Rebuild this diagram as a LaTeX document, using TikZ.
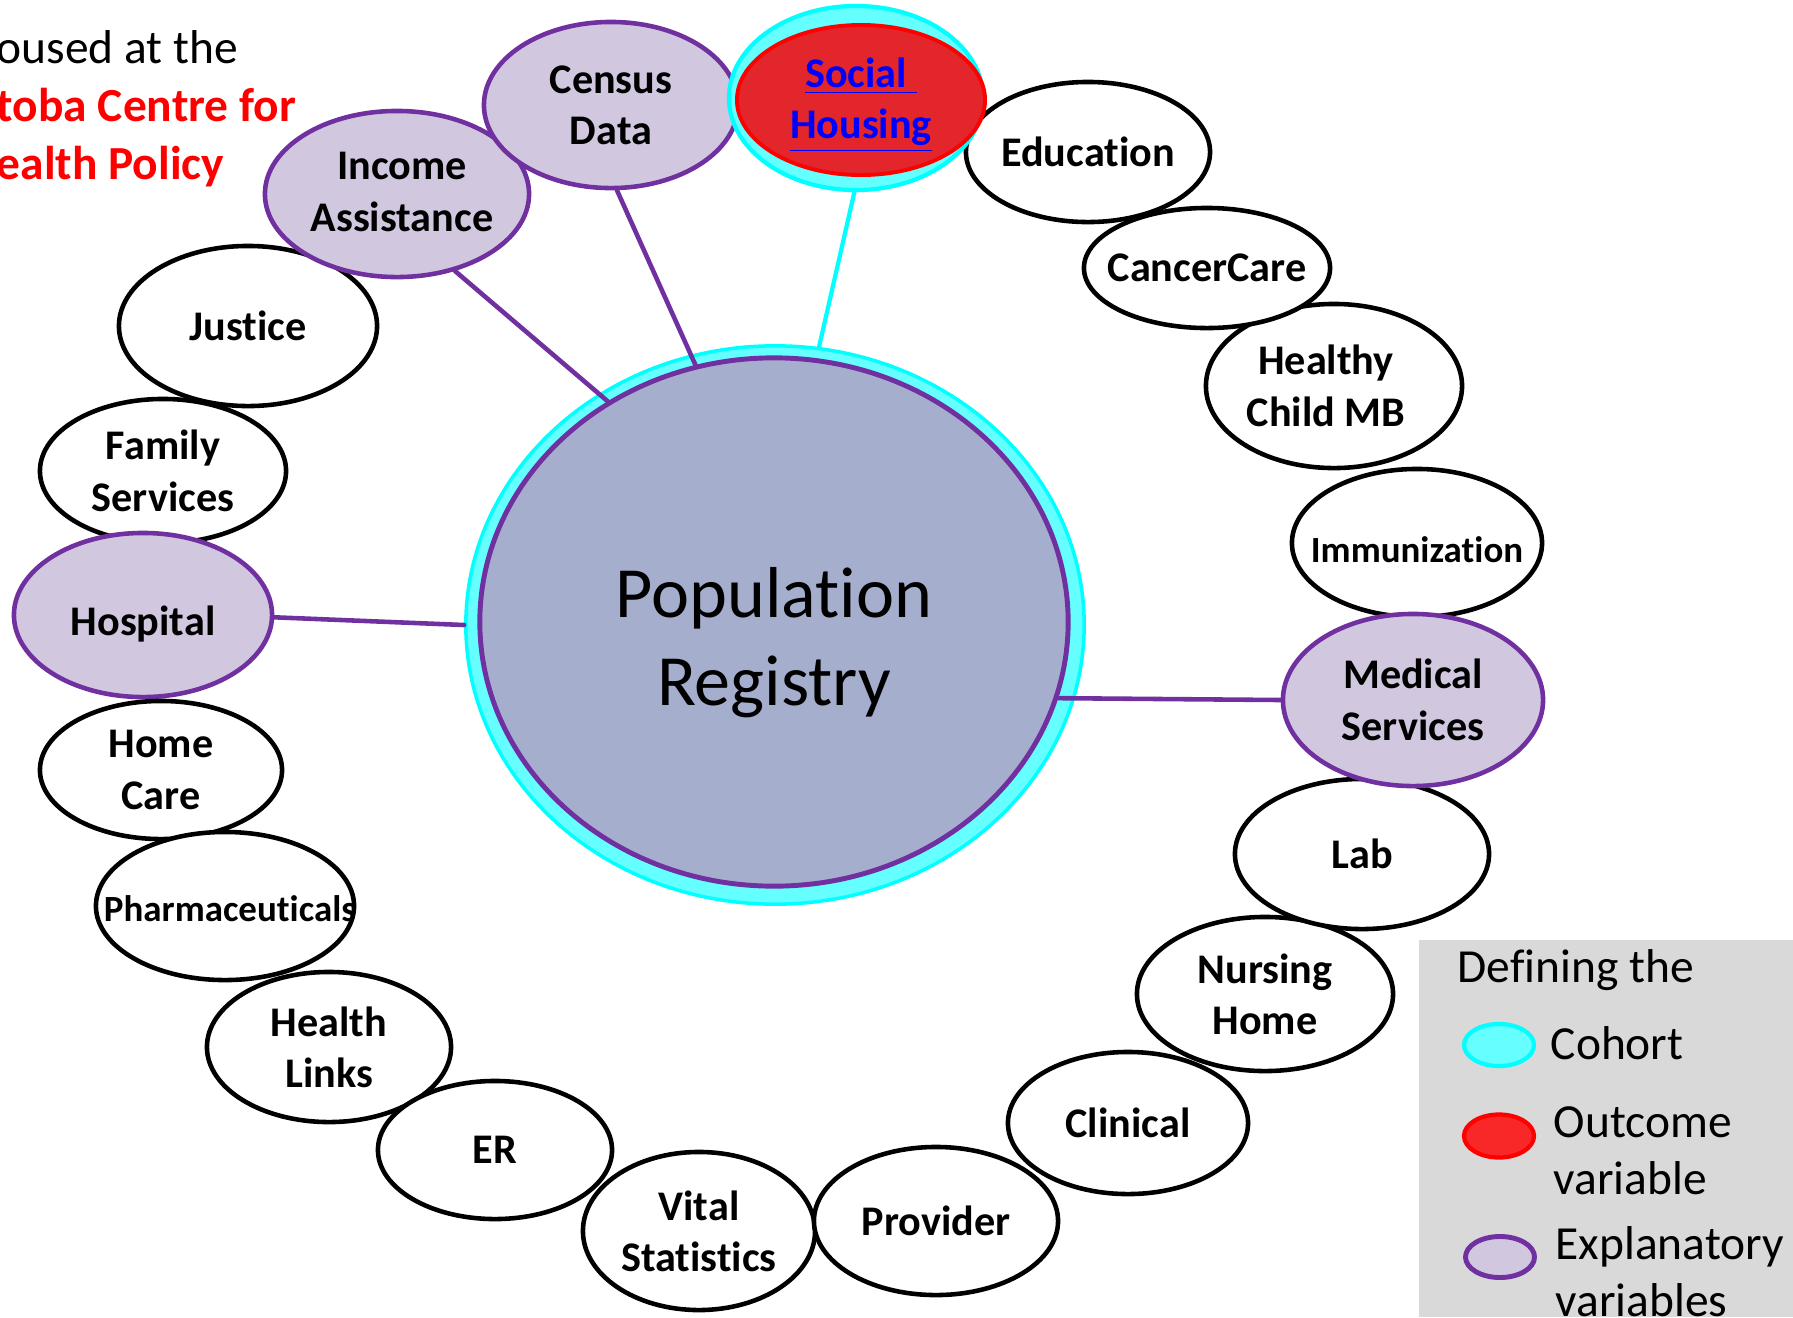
\documentclass[tikz,border=0pt]{standalone}
\usepackage{fontspec}
\setmainfont[Ligatures={NoCommon,NoContextual,NoRequired},Contextuals=NoAlternate]{Carlito}
\usetikzlibrary{shapes.geometric}
\definecolor{grape}{HTML}{7030A0}
\definecolor{lilac}{HTML}{D1C8E0}
\definecolor{slate}{HTML}{A6AECE}
\definecolor{aqua}{HTML}{00FFFF}
\definecolor{aquafill}{HTML}{66FFFF}
\definecolor{scarlet}{HTML}{E3262B}
\definecolor{keyred}{HTML}{F82828}
\definecolor{linkblue}{HTML}{0000FF}
\definecolor{keygray}{HTML}{D9D9D9}
\newcommand{\srcfont}{\bfseries\fontsize{12}{14.6}\selectfont}
\newcommand{\smallsrcfont}{\bfseries\fontsize{10.5}{12.8}\selectfont}
\newcommand{\keyfont}{\fontsize{13.5}{16.2}\selectfont}

\begin{document}
\begin{tikzpicture}[line cap=round,line join=round,x=0.01cm,y=-0.01cm,
  every label/.style={align=center,font=\srcfont},
  src/.style={ellipse,draw=black,fill=white,line width=1.3pt,inner sep=0pt},
  expl/.style={ellipse,draw=grape,fill=lilac,line width=1.3pt,inner sep=0pt},
  link/.style={draw=grape,line width=1.3pt}]
\useasboundingbox (0,0) rectangle (1793,1317);
% note in the top left corner
\node[anchor=west,align=left,inner sep=0pt,font=\fontsize{13.5}{16.5}\selectfont] (mchp) at (-4,109)
  {oused at the\\{\color{red}\bfseries toba Centre for}\\{\color{red}\bfseries ealth Policy}};
% registry in the middle
\node[ellipse,draw=aqua,fill=aquafill,line width=1pt,minimum width=6.18cm,minimum height=5.58cm] (popring) at (775,625) {};
\node[ellipse,draw=grape,fill=slate,line width=1.4pt,minimum width=5.88cm,minimum height=5.28cm,
  label={[font=\fontsize{20.5}{25}\selectfont,yshift=-0.21cm]center:Population\\Registry}] (pop) at (774,622) {};
% data sources, left side
\node[src,minimum width=2.58cm,minimum height=1.60cm,label={center:Justice}] (justice) at (248,326) {};
\node[src,minimum width=2.46cm,minimum height=1.44cm,label={center:Family\\Services}] (family) at (163,471) {};
\node[expl,minimum width=2.58cm,minimum height=1.64cm,label={[yshift=-0.09cm]center:Hospital}] (hospital) at (143,615) {};
\node[src,minimum width=2.42cm,minimum height=1.38cm,label={center:Home\\Care}] (homecare) at (161,770) {};
\node[src,minimum width=2.58cm,minimum height=1.48cm,label={[font=\smallsrcfont,yshift=-0.03cm,xshift=0.05cm]center:Pharmaceuticals}] (pharma) at (225,906) {};
\node[src,minimum width=2.44cm,minimum height=1.50cm,label={center:Health\\Links}] (links) at (329,1047) {};
\node[src,minimum width=2.34cm,minimum height=1.38cm,label={center:ER}] (er) at (495,1150) {};
\node[src,minimum width=2.32cm,minimum height=1.58cm,label={center:Vital\\Statistics}] (vital) at (699,1231) {};
% data sources, right side
\node[src,minimum width=2.44cm,minimum height=1.48cm,label={center:Provider}] (provider) at (936,1221) {};
\node[src,minimum width=2.40cm,minimum height=1.42cm,label={center:Clinical}] (clinical) at (1128,1123) {};
\node[src,minimum width=2.56cm,minimum height=1.54cm,label={center:Nursing\\Home}] (nursing) at (1265,994) {};
\node[src,minimum width=2.54cm,minimum height=1.50cm,label={center:Lab}] (lab) at (1362,854) {};
\node[src,minimum width=2.50cm,minimum height=1.48cm,label={[font=\smallsrcfont,yshift=-0.07cm]center:Immunization}] (immun) at (1417,543) {};
\node[expl,minimum width=2.60cm,minimum height=1.72cm,label={center:Medical\\Services}] (medical) at (1413,700) {};
\node[src,minimum width=2.56cm,minimum height=1.64cm,label={[xshift=-0.08cm]center:Healthy\\Child MB}] (healthy) at (1334,386) {};
\node[src,minimum width=2.46cm,minimum height=1.20cm,label={center:CancerCare}] (cancer) at (1207,268) {};
\node[src,minimum width=2.44cm,minimum height=1.40cm,label={center:Education}] (educ) at (1088,152) {};
% top row
\node[expl,minimum width=2.64cm,minimum height=1.66cm,label={[xshift=0.05cm,yshift=0.02cm]center:Income\\Assistance}] (income) at (397,194) {};
\node[expl,minimum width=2.54cm,minimum height=1.66cm,label={center:Census\\Data}] (census) at (611,105) {};
\node[ellipse,draw=aqua,fill=aquafill,line width=1.2pt,minimum width=2.54cm,minimum height=1.84cm] (housering) at (856,98) {};
\node[ellipse,draw=red,fill=scarlet,line width=1.1pt,minimum width=2.48cm,minimum height=1.50cm,
  label={[text=linkblue,yshift=-0.05cm]center:\underline{Social~}\\\underline{Housing}}] (housing) at (861,100) {};
% links to the registry
\draw[link] (income.-53) -- (pop.127);
\draw[link] (census.-86) -- (pop.107);
\draw[draw=aqua,line width=1.2pt] (housering.-91) -- (popring.81);
\draw[link] (hospital.-1) -- (popring.180);
\draw[link] (pop.-15) -- (medical.180);
% key
\fill[keygray] (1419,940) rectangle (1793,1317);
\node[anchor=west,inner sep=0pt,font=\keyfont] (keytitle) at (1457,970) {Defining the};
\node[ellipse,draw=aqua,fill=aquafill,line width=1.2pt,minimum width=0.70cm,minimum height=0.42cm] (cohortkey) at (1499,1045) {};
\node[anchor=west,inner sep=0pt,font=\keyfont] (cohorttext) at (1550,1043) {Cohort};
\node[ellipse,draw=red,fill=keyred,line width=1.2pt,minimum width=0.70cm,minimum height=0.43cm] (outcomekey) at (1499,1136) {};
\node[anchor=west,align=left,inner sep=0pt,font=\keyfont] (outcometext) at (1553,1151) {Outcome\\variable};
\node[ellipse,draw=grape,fill=lilac,line width=1.4pt,minimum width=0.69cm,minimum height=0.41cm] (explkey) at (1500,1257) {};
\node[anchor=west,align=left,inner sep=0pt,font=\keyfont] (expltext) at (1555,1272) {Explanatory\\variables};
\end{tikzpicture}
\end{document}
